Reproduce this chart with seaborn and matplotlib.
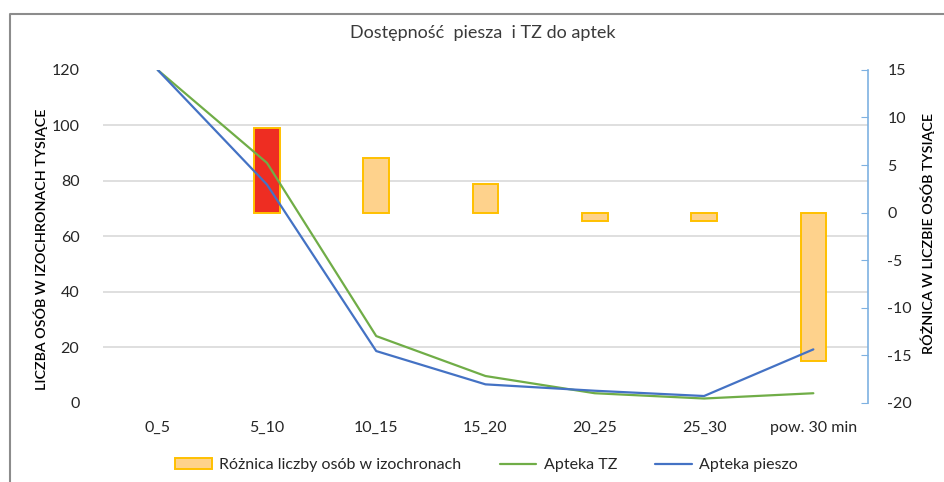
import numpy as np
import pandas as pd
import matplotlib
matplotlib.use("Agg")
import matplotlib.pyplot as plt
from matplotlib.patches import Patch
from matplotlib.lines import Line2D
import seaborn as sns

# data (thousands of people)
kategorie = ["0_5", "5_10", "10_15", "15_20", "20_25", "25_30", "pow. 30 min"]
apteka_tz = [120, 86.5, 24.1, 9.7, 3.5, 1.6, 3.5]
apteka_pieszo = [120, 78.7, 18.7, 6.7, 4.4, 2.5, 19.3]
roznica = [np.nan, 8.9, 5.7, 3.0, -0.9, -0.9, -15.6]

left_ticks = [0, 20, 40, 60, 80, 100, 120]
right_ticks = [-20, -15, -10, -5, 0, 5, 10, 15]

ORANGE_FILL = "#FED28C"
ORANGE_EDGE = "#FFC000"
RED = "#EE2D22"
GREEN = "#70AD47"
BLUE = "#4472C4"
TXT = "#262626"

sns.set_style("white")
plt.rcParams["font.family"] = ["Lato", "DejaVu Sans"]
plt.rcParams["axes.unicode_minus"] = False

df = pd.DataFrame({"kat": kategorie, "tz": apteka_tz,
                   "pieszo": apteka_pieszo, "roznica": roznica})
bar_colors = {k: ORANGE_FILL for k in kategorie}
bar_colors["5_10"] = RED

fig = plt.figure(figsize=(9.45, 4.82), dpi=100)
ax = fig.add_axes([0.109, 0.164, 0.8095, 0.691])
ax2 = ax.twinx()

# lines on the left axis
sns.lineplot(data=df, x="kat", y="tz", color=GREEN, lw=1.6, ax=ax, sort=False)
sns.lineplot(data=df, x="kat", y="pieszo", color=BLUE, lw=1.6, ax=ax, sort=False)

# bars on the right axis
sns.barplot(data=df.dropna(), x="kat", y="roznica", hue="kat", order=kategorie,
            hue_order=kategorie, palette=bar_colors, legend=False, width=0.235,
            saturation=1, edgecolor=ORANGE_EDGE, linewidth=1.4, ax=ax2)

ax.set_ylim(0, 120)
ax2.set_ylim(-20, 15)
ax.set_xlim(-0.5, len(kategorie) - 0.5)
ax2.set_xlim(-0.5, len(kategorie) - 0.5)

# gridlines belong to the left scale but sit under the bars -> map onto ax2
lo1, hi1 = ax.get_ylim()
lo2, hi2 = ax2.get_ylim()
grid_pos = [lo2 + (v - lo1) * (hi2 - lo2) / (hi1 - lo1) for v in left_ticks]
ax2.set_yticks(grid_pos, minor=True)
ax2.yaxis.grid(True, which="minor", color="#D9D9D9", lw=1.2)
ax2.tick_params(axis="y", which="minor", length=0)
ax2.set_axisbelow(True)
ax.set_zorder(ax2.get_zorder() + 1)
ax.patch.set_visible(False)

ax.set_yticks(left_ticks)
ax2.set_yticks(right_ticks)
ax.tick_params(axis="y", length=0, pad=17, labelsize=11.5, labelcolor=TXT)
ax.tick_params(axis="x", length=0, pad=13, labelsize=11.5, labelcolor=TXT)
ax2.tick_params(axis="y", which="major", direction="in", length=5,
                color="#7EB1E1", pad=14, labelsize=11.5, labelcolor=TXT)

for sp in ax.spines.values():
    sp.set_visible(False)
for name, sp in ax2.spines.items():
    sp.set_visible(name == "right")
ax2.spines["right"].set_color("#7EB1E1")
ax2.spines["right"].set_linewidth(1.2)

ax.set_xlabel("")
ax2.set_xlabel("")
ax.set_ylabel("LICZBA OSÓB W IZOCHRONACH TYSIĄCE", fontsize=10.3,
              fontweight="semibold", color="black")
ax2.set_ylabel("RÓŻNICA W LICZBIE OSÓB TYSIĄCE", fontsize=10.3,
               fontweight="semibold", color="black")
ax.yaxis.set_label_coords(-0.072, 0.46)
ax2.yaxis.set_label_coords(1.069, 0.51)

fig.text(0.511, 0.931, "Dostępność  piesza  i TZ do aptek", ha="center",
         va="center", fontsize=13, color="#3A3A3A")

handles = [Patch(facecolor=ORANGE_FILL, edgecolor=ORANGE_EDGE, lw=1.4),
           Line2D([], [], color=GREEN, lw=1.6),
           Line2D([], [], color=BLUE, lw=1.6)]
labels = ["Różnica liczby osób w izochronach", "Apteka TZ", "Apteka pieszo"]
leg = fig.legend(handles, labels, loc="center", bbox_to_anchor=(0.515, 0.035),
                 ncol=3, frameon=False, fontsize=11.5, handlelength=2.3,
                 handletextpad=0.45, columnspacing=2.4)
for t in leg.get_texts():
    t.set_color(TXT)

# outer chart frame (only top and left edges are visible in the crop)
fig.add_artist(Line2D([0.0106, 0.0106, 1.0], [0.0, 0.971, 0.971],
                      transform=fig.transFigure, color="#8C8C8C", lw=1.5))

fig.savefig("out.png", dpi=100)
